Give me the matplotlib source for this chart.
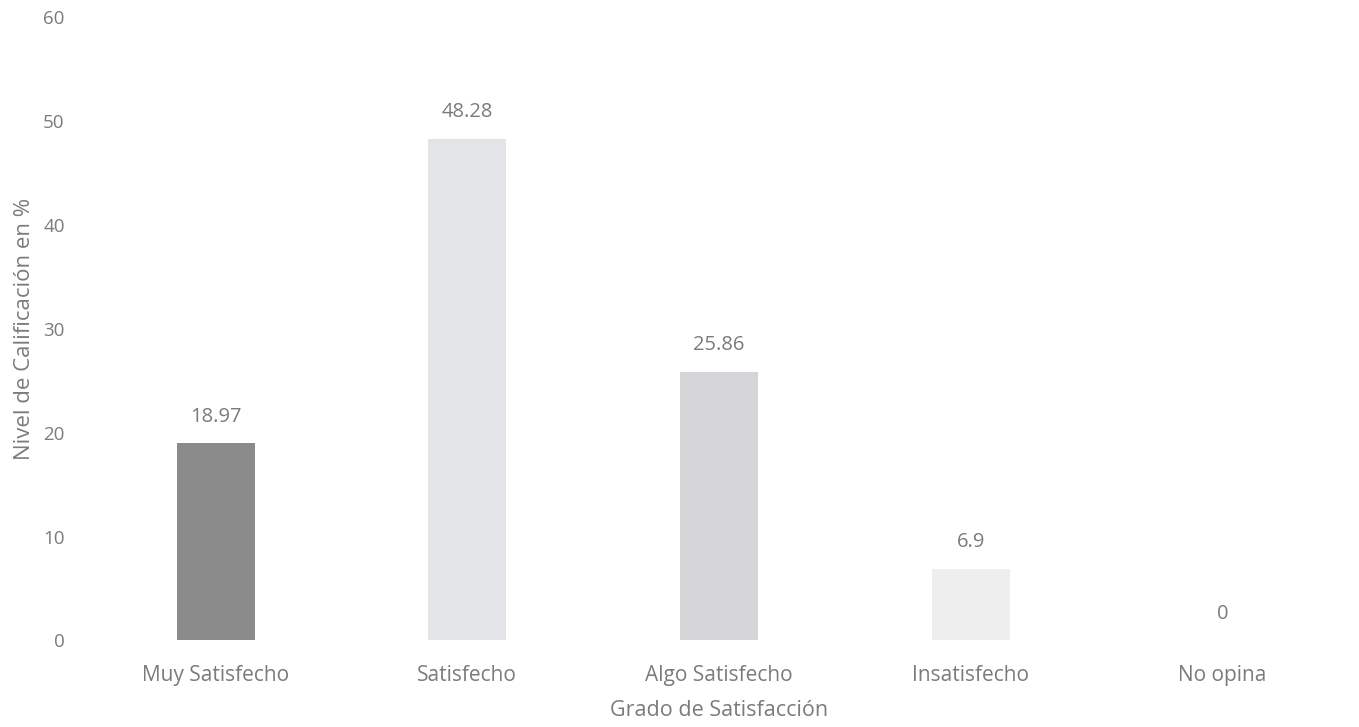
import matplotlib.pyplot as plt

plt.rcParams['font.family'] = ['Open Sans', 'DejaVu Sans']

# Data
categorias = ['Muy Satisfecho', 'Satisfecho', 'Algo Satisfecho', 'Insatisfecho', 'No opina']
valores = [18.97, 48.28, 25.86, 6.9, 0]
etiquetas = ['18.97', '48.28', '25.86', '6.9', '0']
colores = ['#8b8b8c', '#e3e4e8', '#d5d5d7', '#eeeeee', '#e0e0e0']
yticks = [0, 10, 20, 30, 40, 50, 60]

texto = '#7b7b7b'

fig = plt.figure(figsize=(13.59, 7.27), dpi=100)
ax = fig.add_axes([0.066, 0.119, 0.926, 0.858])

x = range(len(categorias))
ax.bar(x, valores, width=0.31, color=colores)

for xi, v, lab in zip(x, valores, etiquetas):
    ax.annotate(lab, (xi, v), xytext=(0, 12), textcoords='offset points',
                ha='center', va='bottom', fontsize=14.5, color=texto)

ax.set_xlim(-0.5, len(categorias) - 0.5)
ax.set_ylim(0, 60)
ax.set_yticks(yticks)
ax.set_xticks(list(x))
ax.set_xticklabels(categorias)
ax.tick_params(axis='y', length=0, labelsize=13.5, labelcolor=texto, pad=18)
ax.tick_params(axis='x', length=0, labelsize=15, labelcolor=texto, pad=18)

ax.set_xlabel('Grado de Satisfacción', fontsize=15.5, color=texto, labelpad=10)
ax.set_ylabel('Nivel de Calificación en %', fontsize=16, color=texto, labelpad=6)

for s in ax.spines.values():
    s.set_visible(False)

fig.savefig('out.png', dpi=100)
